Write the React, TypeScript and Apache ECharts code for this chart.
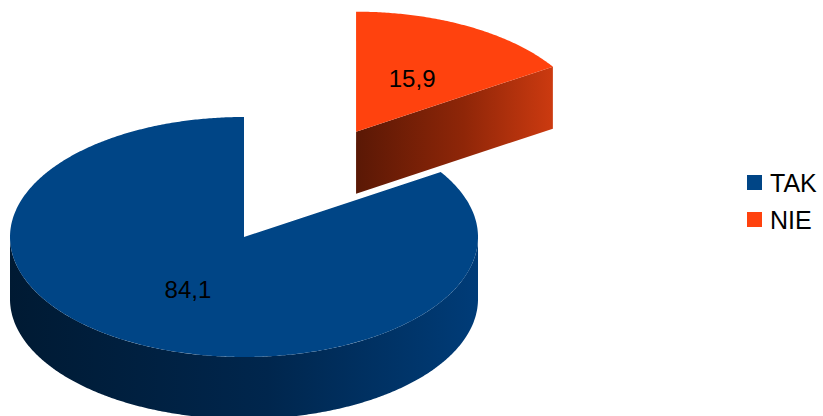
import React, { useEffect, useRef } from "react";
import * as echarts from "echarts";

const categories = ["TAK", "NIE"];
const values = [84.1, 15.9];

const TOP_COLORS = ["#004586", "#ff420e"];
const SIDE_STOPS = [
  ["#001a33", "#00264d", "#003c78"],
  ["#5a1805", "#8f2608", "#cc3a10"],
];
const EXPLODE = [0, 1.0];

const CX = 244;
const CY = 237;
const RX = 234;
const RY = 120;
const DEPTH = 62;
const RAD = Math.PI / 180;

const total = values.reduce((a, b) => a + b, 0);

function sliceRange(i: number): [number, number] {
  let acc = 0;
  for (let j = 0; j < i; j++) acc += values[j];
  const a0 = (acc / total) * 360;
  const a1 = ((acc + values[i]) / total) * 360;
  // counter-clockwise from 12 o'clock -> convert to clockwise angles
  return [360 - a1, 360 - a0];
}

function grad(i: number) {
  const s = SIDE_STOPS[i];
  return new echarts.graphic.LinearGradient(0, 0, 1, 0, [
    { offset: 0, color: s[0] },
    { offset: 0.55, color: s[1] },
    { offset: 1, color: s[2] },
  ]);
}

function renderSlice(params: any, api: any) {
  const i = params.seriesIndex;
  const v = api.value(0);
  const [t0, t1] = sliceRange(i);
  const mid = ((t0 + t1) / 2) * RAD;
  const e = EXPLODE[i];
  const ox = CX + e * RX * Math.sin(mid);
  const oy = CY - e * RY * Math.cos(mid);
  const pt = (deg: number, dz = 0) => [
    ox + RX * Math.sin(deg * RAD),
    oy - RY * Math.cos(deg * RAD) + dz,
  ];
  const arc = (a: number, b: number, dz = 0) => {
    const pts: number[][] = [];
    const n = Math.max(2, Math.ceil((b - a) / 0.5));
    for (let k = 0; k <= n; k++) pts.push(pt(a + ((b - a) * k) / n, dz));
    return pts;
  };
  const children: any[] = [];
  const addCut = (t: number) => {
    children.push({
      type: "polygon",
      shape: { points: [[ox, oy], pt(t), pt(t, DEPTH), [ox, oy + DEPTH]] },
      style: { fill: grad(i) },
    });
  };
  if (Math.sin(t0 * RAD) < -1e-6) addCut(t0);
  if (Math.sin(t1 * RAD) > 1e-6) addCut(t1);
  const s0 = Math.max(t0, 90);
  const s1 = Math.min(t1, 270);
  if (s1 > s0) {
    const top = arc(s0, s1);
    const bot = arc(s0, s1, DEPTH).reverse();
    children.push({
      type: "polygon",
      shape: { points: top.concat(bot) },
      style: { fill: grad(i) },
    });
  }
  children.push({
    type: "polygon",
    shape: { points: [[ox, oy]].concat(arc(t0, t1)) },
    style: { fill: TOP_COLORS[i] },
  });
  children.push({
    type: "text",
    x: ox + 0.5 * RX * Math.sin(mid),
    y: oy - 0.5 * RY * Math.cos(mid),
    style: {
      text: String(v).replace(".", ","),
      fill: "#000",
      font: '24px "Liberation Sans", Arial, sans-serif',
      align: "center",
      verticalAlign: "middle",
    },
  });
  return { type: "group", children };
}

export default function App() {
  const ref = useRef<HTMLDivElement>(null);
  useEffect(() => {
    if (!ref.current) return;
    const chart = echarts.init(ref.current, undefined, { renderer: "svg" });
    chart.setOption({
      animation: false,
      backgroundColor: "#ffffff",
      legend: {
        orient: "vertical",
        left: 747,
        top: 170,
        padding: 0,
        itemWidth: 15,
        itemHeight: 15,
        itemGap: 12,
        icon: "rect",
        data: categories,
        selectedMode: false,
        textStyle: {
          fontSize: 25,
          fontFamily: '"Liberation Sans", Arial, sans-serif',
          color: "#000",
          padding: [0, 0, 0, 3],
        },
      },
      series: categories.map((name, i) => ({
        type: "custom",
        name,
        coordinateSystem: "none",
        itemStyle: { color: TOP_COLORS[i] },
        data: [[values[i]]],
        renderItem: renderSlice,
      })),
    });
    return () => chart.dispose();
  }, []);
  return (
    <div
      ref={ref}
      style={{ position: "absolute", left: 0, top: 0, width: 823, height: 416 }}
    />
  );
}
